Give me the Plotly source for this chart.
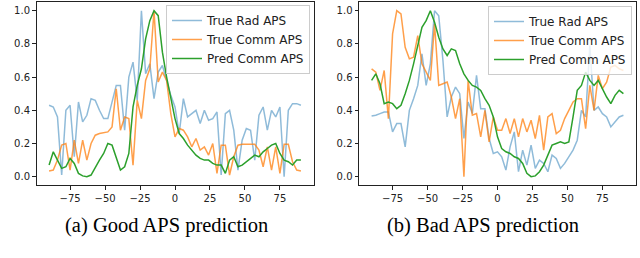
import plotly.graph_objects as go

angles = list(range(-90, 91, 3))

good_rad = [0.43, 0.42, 0.36, 0.01, 0.40, 0.43, 0.12, 0.45, 0.33, 0.37, 0.47, 0.46, 0.40, 0.35, 0.35, 0.45,
            0.55, 0.55, 0.28, 0.60, 0.69, 0.46, 1.00, 0.62, 0.68, 0.47, 0.63, 0.67, 0.58, 0.49, 0.42,
            0.26, 0.47, 0.36, 0.38, 0.40, 0.32, 0.40, 0.34, 0.35, 0.39, 0.01, 0.38, 0.40, 0.28, 0.04,
            0.22, 0.29, 0.28, 0.10, 0.37, 0.42, 0.28, 0.40, 0.36, 0.42, 0.00, 0.40, 0.44, 0.44, 0.43]
good_comm = [0.035, 0.04, 0.10, 0.19, 0.20, 0.04, 0.22, 0.08, 0.22, 0.10, 0.20, 0.25, 0.26, 0.265, 0.27, 0.30,
             0.53, 0.28, 0.36, 0.35, 0.07, 0.46, 0.35, 0.58, 0.65, 1.00, 0.57, 0.63, 0.58, 0.38, 0.24,
             0.29, 0.28, 0.24, 0.18, 0.23, 0.16, 0.18, 0.13, 0.20, 0.02, 0.19, 0.19, 0.01, 0.12, 0.19,
             0.195, 0.195, 0.195, 0.195, 0.16, 0.06, 0.18, 0.04, 0.18, 0.02, 0.195, 0.195, 0.09, 0.04, 0.035]
good_pred = [0.07, 0.15, 0.10, 0.05, 0.06, 0.11, 0.08, 0.02, 0.005, 0.0, 0.01, 0.06, 0.10, 0.14, 0.20, 0.19,
             0.12, 0.04, 0.06, 0.14, 0.42, 0.55, 0.65, 0.83, 0.94, 1.00, 0.97, 0.75, 0.60, 0.47, 0.35,
             0.26, 0.23, 0.19, 0.16, 0.13, 0.11, 0.10, 0.10, 0.08, 0.07, 0.07, 0.02, 0.10, 0.12, 0.06,
             0.07, 0.09, 0.11, 0.13, 0.12, 0.15, 0.17, 0.19, 0.20, 0.14, 0.10, 0.09, 0.07, 0.10, 0.10]

bad_rad = [0.365, 0.37, 0.38, 0.39, 0.39, 0.27, 0.32, 0.32, 0.18, 0.40, 0.47, 0.55, 0.74, 0.55, 0.68, 1.00,
           0.97, 0.70, 0.36, 0.48, 0.54, 0.50, 0.23, 0.45, 0.38, 0.61, 0.41, 0.41, 0.23, 0.14, 0.15,
           0.12, 0.04, 0.18, 0.27, 0.03, 0.16, 0.07, 0.19, 0.05, 0.10, 0.08, 0.03, 0.13, 0.11, 0.05,
           0.08, 0.12, 0.16, 0.22, 0.40, 0.36, 0.79, 0.40, 0.42, 0.38, 0.36, 0.30, 0.33, 0.36, 0.37]
bad_comm = [0.65, 0.63, 0.52, 0.64, 0.35, 0.86, 1.00, 0.98, 0.78, 0.71, 0.72, 0.85, 0.68, 0.63, 0.58, 0.92,
            0.55, 0.56, 0.57, 0.48, 0.35, 0.47, 0.00, 0.58, 0.37, 0.38, 0.24, 0.40, 0.21, 0.36, 0.28,
            0.28, 0.35, 0.26, 0.35, 0.24, 0.35, 0.27, 0.34, 0.23, 0.37, 0.16, 0.36, 0.38, 0.26, 0.28,
            0.35, 0.40, 0.45, 0.47, 0.47, 0.29, 0.55, 0.40, 0.61, 0.53, 0.57, 0.66, 0.67, 0.65, 0.64]
bad_pred = [0.58, 0.62, 0.56, 0.44, 0.45, 0.44, 0.41, 0.43, 0.50, 0.58, 0.68, 0.80, 0.90, 0.94, 1.00, 0.93,
            0.84, 0.77, 0.73, 0.77, 0.76, 0.68, 0.62, 0.58, 0.55, 0.54, 0.52, 0.47, 0.43, 0.36, 0.24,
            0.17, 0.15, 0.14, 0.12, 0.11, 0.08, 0.02, 0.0, 0.005, 0.03, 0.07, 0.13, 0.19, 0.20, 0.21,
            0.20, 0.21, 0.36, 0.52, 0.55, 0.63, 0.58, 0.55, 0.58, 0.53, 0.48, 0.44, 0.49, 0.52, 0.50]

series_names = ["True Rad APS", "True Comm APS", "Pred Comm APS"]
x_ticks = [-75, -50, -25, 0, 25, 50, 75]
y_ticks = [0.0, 0.2, 0.4, 0.6, 0.8, 1.0]
captions = ["(a) Good APS prediction", "(b) Bad APS prediction"]

colors = ["rgba(31,119,180,0.5)", "rgba(255,127,14,0.75)", "#2ca02c"]

W, H = 640, 258
fig = go.Figure()

panels = [
    ("x", "y", "legend", [good_rad, good_comm, good_pred]),
    ("x2", "y2", "legend2", [bad_rad, bad_comm, bad_pred]),
]
for xa, ya, lg, data in panels:
    for name, vals, col in zip(series_names, data, colors):
        fig.add_trace(go.Scatter(x=angles, y=vals, name=name, mode="lines",
                                 line=dict(color=col, width=1.5),
                                 xaxis=xa, yaxis=ya, legend=lg))

axis_common = dict(showline=True, mirror=True, linecolor="#222", linewidth=1,
                   ticks="outside", ticklen=3.5, tickwidth=0.8, tickcolor="#222",
                   showgrid=False, zeroline=False,
                   tickfont=dict(family="DejaVu Sans", size=10, color="#222"))

legend_common = dict(xanchor="right", yanchor="top",
                     bgcolor="rgba(255,255,255,0.8)", bordercolor="#cccccc", borderwidth=1,
                     font=dict(family="DejaVu Sans", size=12, color="#222"),
                     tracegroupgap=0, itemwidth=30)

ydom = [1 - 185 / H, 1 - 2.4 / H]
fig.update_layout(
    width=W, height=H, margin=dict(l=0, r=0, t=0, b=0),
    paper_bgcolor="white", plot_bgcolor="white",
    xaxis=dict(domain=[36.5 / W, 313.5 / W], range=[-99, 99], tickvals=x_ticks,
               anchor="y", **axis_common),
    yaxis=dict(domain=ydom, range=[-0.05, 1.05], tickvals=y_ticks, tickformat=".1f",
               anchor="x", **axis_common),
    xaxis2=dict(domain=[359 / W, 636 / W], range=[-99, 99], tickvals=x_ticks,
                anchor="y2", **axis_common),
    yaxis2=dict(domain=ydom, range=[-0.05, 1.05], tickvals=y_ticks, tickformat=".1f",
                anchor="x2", **axis_common),
    legend=dict(x=310 / W, y=1 - 5 / H, **legend_common),
    legend2=dict(x=632 / W, y=1 - 6 / H, **legend_common),
)

for cx, text in zip([166.6, 483], captions):
    fig.add_annotation(x=cx / W, y=1 - 225 / H, xref="paper", yref="paper",
                       text=text, showarrow=False, xanchor="center", yanchor="middle",
                       font=dict(family="Liberation Serif", size=20.5, color="black"))

fig.write_html("out.html", config={"displayModeBar": False},
               post_script="document.body.style.margin='0';")
